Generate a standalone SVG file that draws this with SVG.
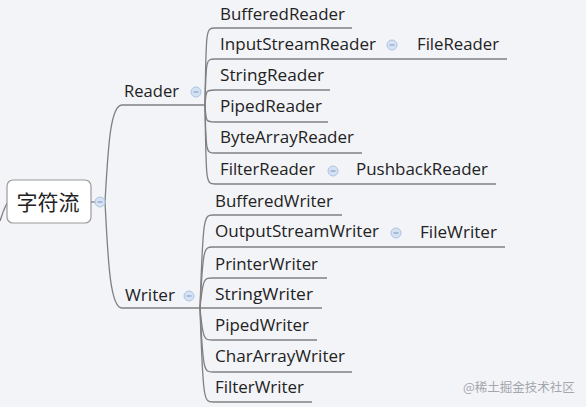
<svg xmlns="http://www.w3.org/2000/svg" width="586" height="407" viewBox="0 0 586 407">
<style>
.bg{fill:#f3f4f8}
.t{font-family:"Open Sans","Liberation Sans",sans-serif;font-size:16.5px;fill:#222}
.root{font-family:"Noto Sans CJK SC","Noto Sans",sans-serif;font-size:21px;fill:#222}
.c{fill:none;stroke:#808080;stroke-width:1.3}
.wm{font-family:"Noto Sans CJK SC",sans-serif;font-size:12.5px;fill:#a4a6ad}
.btn circle{fill:#d4e2f4;stroke:#aec4e2;stroke-width:1}
.btn line{stroke:#8aa4c8;stroke-width:1.2}
</style>
<defs>
<g id="minus" class="btn"><circle cx="0" cy="0" r="5"/><line x1="-2.5" y1="0" x2="2.5" y2="0"/></g>
</defs>
<rect class="bg" x="0" y="0" width="586" height="407"/>
<g id="connectors">
<path class="c" d="M0,221 Q3,211 7,203"/>
<path class="c" d="M91,202 H100"/>
<path class="c" d="M105,202 C108,150 110,105 122,105 H205"/>
<path class="c" d="M105,202 C108,260 110,308 122,308 H200"/>
<path class="c" d="M205,105 C206,28 206,28 215,28 H352"/>
<path class="c" d="M205,105 C206,59 206,59 215,59 H507"/>
<path class="c" d="M205,105 C206,90 206,90 215,90 H330"/>
<path class="c" d="M205,105 C206,122 206,122 215,122 H328"/>
<path class="c" d="M205,105 C206,153 206,153 215,153 H362"/>
<path class="c" d="M205,105 C206,184 206,184 215,184 H496"/>
<path class="c" d="M200,308 C203,215 204,215 213,215 H342"/>
<path class="c" d="M200,308 C203,247 204,247 213,247 H505"/>
<path class="c" d="M200,308 C203,278 204,278 213,278 H327"/>
<path class="c" d="M200,308 H322"/>
<path class="c" d="M200,308 C203,340 204,340 213,340 H317"/>
<path class="c" d="M200,308 C203,372 204,372 213,372 H352"/>
<path class="c" d="M200,308 C203,402 204,402 213,402 H312"/>
</g>
<g id="root">
<rect x="7" y="180" width="84" height="43" rx="6" fill="#fff" stroke="#9a9a9a" stroke-width="1.2"/>
<text class="root" x="48" y="210" text-anchor="middle">字符流</text>
<use href="#minus" x="100" y="202"/>
</g>
<g id="reader"><text class="t" x="124" y="97" textLength="55" lengthAdjust="spacingAndGlyphs">Reader</text><use href="#minus" x="196" y="92"/></g>
<g id="writer"><text class="t" x="125" y="301" textLength="50" lengthAdjust="spacingAndGlyphs">Writer</text><use href="#minus" x="189" y="296"/></g>
<g id="bufferedreader"><text class="t" x="220" y="20" textLength="125" lengthAdjust="spacingAndGlyphs">BufferedReader</text></g>
<g id="inputstreamreader"><text class="t" x="220" y="50" textLength="156" lengthAdjust="spacingAndGlyphs">InputStreamReader</text><use href="#minus" x="392" y="45"/></g>
<g id="filereader"><text class="t" x="417" y="50" textLength="82" lengthAdjust="spacingAndGlyphs">FileReader</text></g>
<g id="stringreader"><text class="t" x="220" y="81" textLength="104" lengthAdjust="spacingAndGlyphs">StringReader</text></g>
<g id="pipedreader"><text class="t" x="220" y="112" textLength="102" lengthAdjust="spacingAndGlyphs">PipedReader</text></g>
<g id="bytearrayreader"><text class="t" x="220" y="143" textLength="134" lengthAdjust="spacingAndGlyphs">ByteArrayReader</text></g>
<g id="filterreader"><text class="t" x="220" y="175" textLength="95" lengthAdjust="spacingAndGlyphs">FilterReader</text><use href="#minus" x="333" y="171"/></g>
<g id="pushbackreader"><text class="t" x="356" y="175" textLength="132" lengthAdjust="spacingAndGlyphs">PushbackReader</text></g>
<g id="bufferedwriter"><text class="t" x="215" y="207" textLength="118" lengthAdjust="spacingAndGlyphs">BufferedWriter</text></g>
<g id="outputstreamwriter"><text class="t" x="215" y="237" textLength="164" lengthAdjust="spacingAndGlyphs">OutputStreamWriter</text><use href="#minus" x="396" y="233"/></g>
<g id="filewriter"><text class="t" x="420" y="238" textLength="77" lengthAdjust="spacingAndGlyphs">FileWriter</text></g>
<g id="printerwriter"><text class="t" x="215" y="270" textLength="103" lengthAdjust="spacingAndGlyphs">PrinterWriter</text></g>
<g id="stringwriter"><text class="t" x="215" y="300" textLength="98" lengthAdjust="spacingAndGlyphs">StringWriter</text></g>
<g id="pipedwriter"><text class="t" x="215" y="331" textLength="94" lengthAdjust="spacingAndGlyphs">PipedWriter</text></g>
<g id="chararraywriter"><text class="t" x="215" y="362" textLength="130" lengthAdjust="spacingAndGlyphs">CharArrayWriter</text></g>
<g id="filterwriter"><text class="t" x="215" y="393" textLength="89" lengthAdjust="spacingAndGlyphs">FilterWriter</text></g>
<text class="wm" x="463" y="392">@稀土掘金技术社区</text>
</svg>
